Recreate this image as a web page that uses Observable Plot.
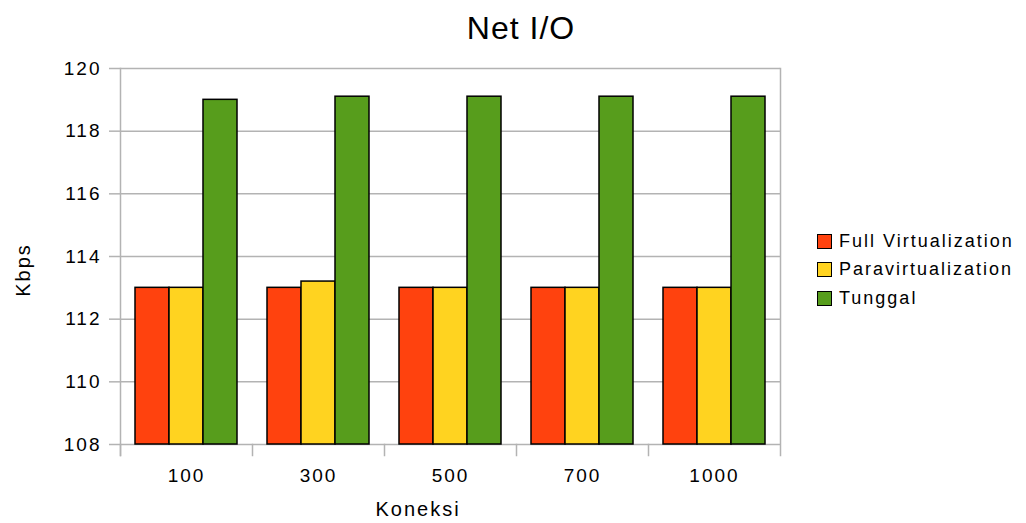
<!DOCTYPE html>
<html>
<head>
<meta charset="utf-8">
<script src="https://cdn.jsdelivr.net/npm/d3@7"></script>
<script src="https://cdn.jsdelivr.net/npm/@observablehq/plot@0.6"></script>
<style>
  html, body { margin: 0; padding: 0; background: #fff; }
  #wrap { position: relative; width: 1026px; height: 523px; font-family: "Liberation Sans", Arial, sans-serif; }
  #title { position: absolute; left: 0; width: 1042px; top: 10px; text-align: center; font-size: 32px; letter-spacing: 1px; color: #000; }
  #legend { position: absolute; left: 817px; top: 227px; font-size: 18px; color: #000; letter-spacing: 2px; }
  #legend .row { display: flex; align-items: center; height: 28.5px; }
  #legend .sw { width: 15px; height: 15px; border: 1px solid #000; margin-right: 7px; box-sizing: border-box; }
  .axlabel { position: absolute; font-size: 20px; letter-spacing: 2px; line-height: 20px; height: 20px; width: 120px; text-align: center; color: #000; white-space: nowrap; }
  #xlabel { left: 358px; top: 499px; }
  #ylabel { left: -37px; top: 260px; transform: rotate(-90deg); transform-origin: 60px 10px; }
  svg text { letter-spacing: 2px; }
</style>
</head>
<body>
<div id="wrap">
  <div id="title">Net I/O</div>
  <div id="legend"></div>
  <div id="xlabel" class="axlabel">Koneksi</div>
  <div id="ylabel" class="axlabel">Kbps</div>
</div>
<script>
const koneksi = ["100", "300", "500", "700", "1000"];
const series = ["Full Virtualization", "Paravirtualization", "Tunggal"];
const fullVirtualization = [113, 113, 113, 113, 113];
const paravirtualization = [113, 113.2, 113, 113, 113];
const tunggal = [119, 119.1, 119.1, 119.1, 119.1];
const colors = ["#ff420e", "#ffd320", "#579d1c"];
const yDomain = [108, 120];
const yTicks = [108, 110, 112, 114, 116, 118, 120];

const seriesValues = [fullVirtualization, paravirtualization, tunggal];
const rows = [];
koneksi.forEach((k, i) => {
  series.forEach((s, j) => rows.push({koneksi: k, series: s, value: seriesValues[j][i]}));
});

const grid = "#b3b3b3";
const chart = Plot.plot({
  width: 1026,
  height: 523,
  marginLeft: 118,
  marginRight: 245,
  marginTop: 68,
  marginBottom: 79,
  style: {fontFamily: "'Liberation Sans', Arial, sans-serif", fontSize: "19px", background: "transparent"},
  fx: {domain: koneksi, padding: 0},
  x: {domain: series, paddingInner: 0, paddingOuter: 0.43, axis: null},
  y: {domain: yDomain},
  color: {domain: series, range: colors},
  marks: [
    Plot.gridY(yTicks, {stroke: grid, strokeOpacity: 1, strokeWidth: 1.5}),
    Plot.axisY(yTicks, {tickSize: 11, tickPadding: 8, stroke: grid, strokeOpacity: 1, strokeWidth: 1.5, fill: "#000", label: null}),
    Plot.axisFx({anchor: "bottom", tickSize: 0, tickPadding: 24, fill: "#000", label: null}),
    Plot.frame({anchor: "left", stroke: grid, strokeWidth: 1.5, insetTop: 376, insetBottom: -11}),
    Plot.frame({anchor: "left", stroke: grid, strokeWidth: 1.5, insetBottom: -11, fx: () => koneksi[0]}),
    Plot.frame({anchor: "right", stroke: grid, strokeWidth: 1.5, insetBottom: -11, fx: () => koneksi[koneksi.length - 1]}),
    Plot.barY(rows, {fx: "koneksi", x: "series", y1: yDomain[0], y2: "value", fill: "series", stroke: "#000", strokeWidth: 1.5})
  ]
});
const wrap = document.getElementById("wrap");
chart.style.position = "absolute";
chart.style.left = "0";
chart.style.top = "0";
wrap.insertBefore(chart, wrap.firstChild);

const legend = document.getElementById("legend");
series.forEach((s, i) => {
  const row = document.createElement("div");
  row.className = "row";
  const sw = document.createElement("div");
  sw.className = "sw";
  sw.style.background = colors[i];
  const t = document.createElement("span");
  t.textContent = s;
  row.appendChild(sw);
  row.appendChild(t);
  legend.appendChild(row);
});
</script>
</body>
</html>
